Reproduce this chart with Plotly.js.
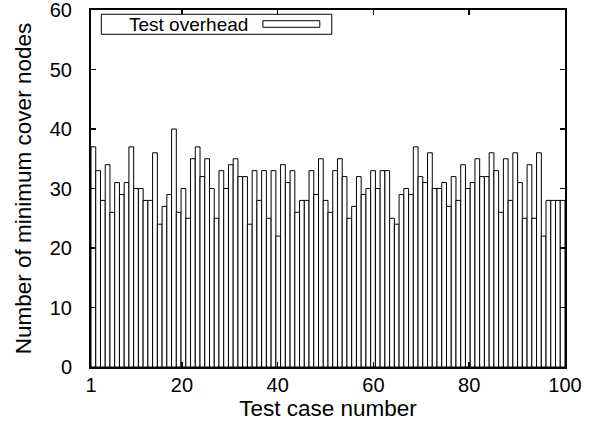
<!DOCTYPE html>
<html>
<head>
<meta charset="utf-8">
<script src="https://cdn.plot.ly/plotly-3.0.1.min.js"></script>
<style>html,body{margin:0;padding:0;background:#fff;}#chart{width:594px;height:428px;}</style>
</head>
<body>
<div id="chart"></div>
<script>
// Test case numbers 1..100
const testCases = [1,2,3,4,5,6,7,8,9,10,11,12,13,14,15,16,17,18,19,20,
  21,22,23,24,25,26,27,28,29,30,31,32,33,34,35,36,37,38,39,40,
  41,42,43,44,45,46,47,48,49,50,51,52,53,54,55,56,57,58,59,60,
  61,62,63,64,65,66,67,68,69,70,71,72,73,74,75,76,77,78,79,80,
  81,82,83,84,85,86,87,88,89,90,91,92,93,94,95,96,97,98,99,100];
// Number of minimum cover nodes (test overhead)
const testOverhead = [37,33,28,34,26,31,29,31,37,30,30,28,28,36,24,27,29,40,26,30,
  25,35,37,32,35,30,25,33,30,34,35,32,32,24,33,28,33,25,33,22,
  34,31,33,26,28,28,33,29,35,28,26,33,35,32,25,27,32,29,30,33,
  30,33,33,25,24,29,30,29,37,32,31,36,30,30,31,27,32,28,34,30,
  31,35,32,32,36,33,26,35,28,36,31,25,34,25,36,22,28,28,28,28];
const xTickVals = [1,20,40,60,80,100];
const yTickVals = [0,10,20,30,40,50,60];
const seriesName = 'Test overhead';

const FONT = 'Liberation Sans, Arial, Helvetica, sans-serif';
const firstCase = testCases[0];
const lastCase = testCases[testCases.length - 1];

const traces = [{
  type: 'bar',
  x: testCases,
  y: testOverhead,
  name: seriesName,
  xaxis: 'x',
  yaxis: 'y',
  marker: {color: '#ffffff', line: {color: '#000000', width: 1}},
  showlegend: false,
  hoverinfo: 'x+y'
}, {
  // invisible helper so the tick axis (case-number scale) is drawn
  type: 'scatter', mode: 'markers',
  x: [firstCase, lastCase], y: [null, null],
  xaxis: 'x2', yaxis: 'y',
  marker: {opacity: 0}, showlegend: false, hoverinfo: 'skip'
}];

const axisCommon = {
  showline: true, linecolor: '#000', linewidth: 2,
  ticks: 'inside', ticklen: 5, tickwidth: 1.5, tickcolor: '#000',
  mirror: 'ticks', showgrid: false, zeroline: false,
  ticklabeloverflow: 'allow',
  tickfont: {family: FONT, size: 20, color: '#000'}
};

const layout = {
  width: 594, height: 428,
  margin: {l: 90.7, r: 29.3, t: 10, b: 60.7},
  paper_bgcolor: '#fff', plot_bgcolor: '#fff',
  bargap: 0,
  showlegend: false,
  font: {family: FONT, size: 20, color: '#000'},
  xaxis: {
    range: [firstCase - 0.5, lastCase + 0.5], visible: false, fixedrange: true
  },
  xaxis2: Object.assign({}, axisCommon, {
    overlaying: 'x', anchor: 'y', side: 'bottom',
    range: [firstCase, lastCase], tickmode: 'array', tickvals: xTickVals,
    ticklabelstandoff: -1,
    title: {text: 'Test case number', font: {family: FONT, size: 22.5, color: '#000'}, standoff: 4}
  }),
  yaxis: Object.assign({}, axisCommon, {
    range: [0, 60], tickmode: 'array', tickvals: yTickVals,
    ticklabelstandoff: 13,
    title: {text: 'Number of minimum cover nodes', font: {family: FONT, size: 22.5, color: '#000'}, standoff: 12}
  }),
  shapes: [
    {type: 'rect', xref: 'paper', yref: 'paper', x0: 0.0217, x1: 0.508, y0: 0.932, y1: 0.988,
     line: {color: '#000', width: 1}, fillcolor: '#fff', layer: 'above'},
    {type: 'rect', xref: 'paper', yref: 'paper', x0: 0.3627, x1: 0.4827, y0: 0.9516, y1: 0.970,
     line: {color: '#000', width: 1}, fillcolor: '#fff', layer: 'above'}
  ],
  annotations: [
    {xref: 'paper', yref: 'paper', x: 0.3354, y: 0.960, xanchor: 'right', yanchor: 'middle',
     text: seriesName, showarrow: false, font: {family: FONT, size: 19, color: '#000'}}
  ]
};

Plotly.newPlot('chart', traces, layout, {displayModeBar: false, staticPlot: true});
</script>
</body>
</html>
